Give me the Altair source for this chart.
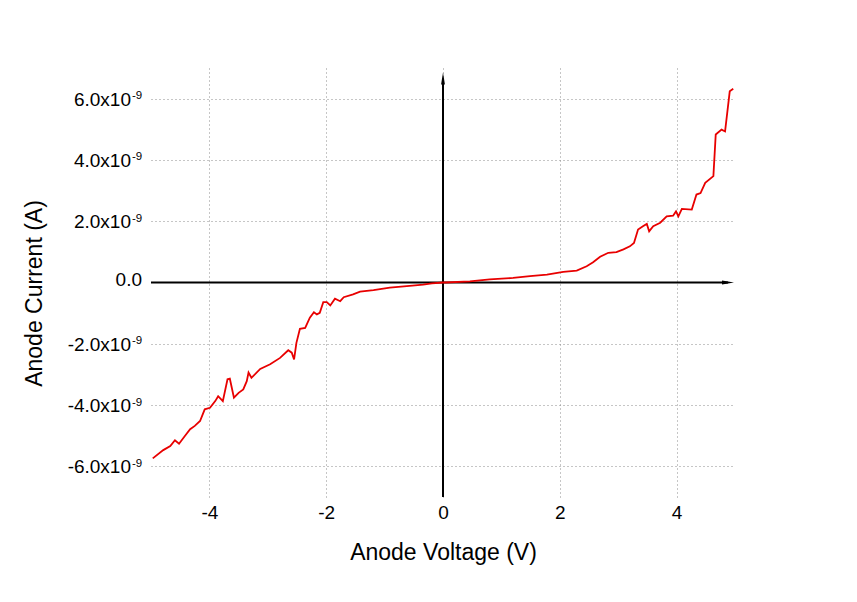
import altair as alt
import pandas as pd

# Anode voltage (V) and anode current (nA)
voltage = [-4.97, -4.79, -4.67, -4.59, -4.52, -4.42, -4.33, -4.25, -4.16, -4.08,
           -3.99, -3.90, -3.85, -3.77, -3.69, -3.65, -3.58, -3.50, -3.42, -3.36,
           -3.33, -3.28, -3.13, -2.96, -2.79, -2.65, -2.59, -2.55, -2.51, -2.45,
           -2.36, -2.28, -2.21, -2.16, -2.11, -2.05, -1.99, -1.93, -1.85, -1.76,
           -1.70, -1.54, -1.42, -1.19, -0.91, -0.62, -0.34, -0.19, 0.0,
           0.05, 0.46, 0.80, 1.20, 1.49, 1.78, 2.06, 2.29, 2.46, 2.57,
           2.69, 2.83, 2.97, 3.09, 3.20, 3.27, 3.34, 3.43, 3.49, 3.53,
           3.60, 3.72, 3.83, 3.94, 3.99, 4.03, 4.09, 4.26, 4.34, 4.41,
           4.49, 4.63, 4.67, 4.77, 4.83, 4.91, 4.97]
current_nA = [-5.74, -5.47, -5.34, -5.15, -5.26, -5.01, -4.79, -4.68, -4.52, -4.14,
              -4.09, -3.87, -3.71, -3.87, -3.16, -3.14, -3.76, -3.60, -3.49, -3.22,
              -2.94, -3.11, -2.82, -2.67, -2.46, -2.21, -2.29, -2.51, -1.97, -1.51,
              -1.48, -1.15, -0.97, -1.04, -0.99, -0.64, -0.64, -0.75, -0.53, -0.61,
              -0.48, -0.39, -0.30, -0.25, -0.17, -0.12, -0.07, -0.03, 0.0,
              0.0, 0.04, 0.10, 0.15, 0.21, 0.26, 0.35, 0.39, 0.53, 0.66,
              0.84, 0.97, 0.99, 1.08, 1.18, 1.29, 1.73, 1.84, 1.91, 1.67,
              1.84, 1.95, 2.16, 2.18, 2.32, 2.16, 2.40, 2.38, 2.87, 2.92,
              3.25, 3.47, 4.83, 4.99, 4.93, 6.24, 6.32]

x_ticks = [-4, -2, 0, 2, 4]
y_ticks_nA = [-6, -4, -2, 2, 4, 6]
y_tick_main = ["-6.0x10", "-4.0x10", "-2.0x10", "2.0x10", "4.0x10", "6.0x10"]
y_tick_exp = ["-9", "-9", "-9", "-9", "-9", "-9"]
y_zero_label = "0.0"

FONT = "Liberation Sans"

df = pd.DataFrame({"V": voltage, "I": [c * 1e-9 for c in current_nA]})
ticks_df = pd.DataFrame({"I": [v * 1e-9 for v in y_ticks_nA],
                         "main": y_tick_main, "exp": y_tick_exp})
zero_df = pd.DataFrame({"I": [0.0], "main": [y_zero_label]})

x_scale = alt.Scale(domain=[-5, 5], nice=False, zero=False)
y_scale = alt.Scale(domain=[-7e-9, 7e-9], nice=False, zero=False)

grid_style = dict(grid=True, gridColor="#8c8c8c", gridDash=[1, 3], gridWidth=1,
                  domain=False, ticks=False, tickSize=0)

x_axis = alt.Axis(values=x_ticks, title="Anode Voltage (V)",
                  labelExpr="(datum.value < 0 ? '-' : '') + abs(datum.value)",
                  labelFont=FONT, labelFontSize=19, labelColor="black",
                  labelBaseline="alphabetic", labelPadding=21, labelFlush=False,
                  titleFont=FONT, titleFontSize=23, titleFontWeight="normal",
                  titleColor="black", titleY=62, titleX=292, titleBaseline="alphabetic",
                  **grid_style)
y_axis = alt.Axis(values=[v * 1e-9 for v in y_ticks_nA], title="Anode Current (A)",
                  labels=False,
                  titleFont=FONT, titleFontSize=23, titleFontWeight="normal",
                  titleColor="black", titleX=-110, titleY=225, titleAngle=-90,
                  titleBaseline="alphabetic", titleAlign="center",
                  **grid_style)

curve = alt.Chart(df).mark_line(color="#e80000", strokeWidth=1.8).encode(
    x=alt.X("V:Q", scale=x_scale, axis=x_axis),
    y=alt.Y("I:Q", scale=y_scale, axis=y_axis),
)

label_main = alt.Chart(ticks_df).mark_text(
    font=FONT, fontSize=19, color="black", align="right", baseline="alphabetic", dy=7
).encode(x=alt.value(-20), y=alt.Y("I:Q", scale=y_scale), text="main:N")
label_exp = alt.Chart(ticks_df).mark_text(
    font=FONT, fontSize=11.5, color="black", align="left", baseline="alphabetic", dy=0.5
).encode(x=alt.value(-19), y=alt.Y("I:Q", scale=y_scale), text="exp:N")
label_zero = alt.Chart(zero_df).mark_text(
    font=FONT, fontSize=19, color="black", align="right", baseline="alphabetic", dy=3
).encode(x=alt.value(-9), y=alt.Y("I:Q", scale=y_scale), text="main:N")

vline = alt.Chart(pd.DataFrame({"x": [0], "y": [-7e-9], "y2": [6.66e-9]})).mark_rule(
    color="black", strokeWidth=2).encode(
    x=alt.X("x:Q", scale=x_scale), y=alt.Y("y:Q", scale=y_scale), y2="y2:Q")
hline = alt.Chart(pd.DataFrame({"x": [-5], "x2": [4.88], "y": [0]})).mark_rule(
    color="black", strokeWidth=2).encode(
    x=alt.X("x:Q", scale=x_scale), x2="x2:Q", y=alt.Y("y:Q", scale=y_scale))

up_arrow = alt.Chart(pd.DataFrame({"x": [0], "y": [6.66e-9]})).mark_point(
    shape="M0,-1L0.32,1L-0.32,1Z", filled=True, color="black", opacity=1, size=144,
    strokeWidth=0).encode(x=alt.X("x:Q", scale=x_scale), y=alt.Y("y:Q", scale=y_scale))
right_arrow = alt.Chart(pd.DataFrame({"x": [4.88], "y": [0]})).mark_point(
    shape="M1,0L-1,0.32L-1,-0.32Z", filled=True, color="black", opacity=1, size=144,
    strokeWidth=0).encode(x=alt.X("x:Q", scale=x_scale), y=alt.Y("y:Q", scale=y_scale))

chart = alt.layer(vline, hline, curve, up_arrow, right_arrow,
                  label_main, label_exp, label_zero).properties(
    width=584, height=429,
    autosize=alt.AutoSizeParams(type="none"),
    padding={"left": 143, "top": 60, "right": 110, "bottom": 97},
    background="white",
).configure_view(stroke=None)

chart.save("out.html", embed_options={"renderer": "svg", "actions": False})
